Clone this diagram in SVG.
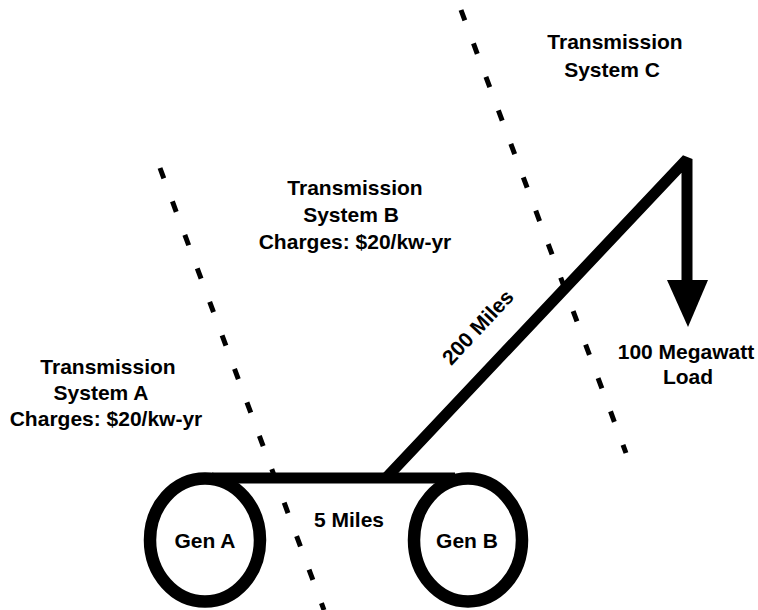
<svg xmlns="http://www.w3.org/2000/svg" width="758" height="610" viewBox="0 0 758 610">
  <style>
    .lbl { font-family: "Liberation Sans", Arial, sans-serif; font-weight: bold; font-size: 21px; fill: #000; text-anchor: middle; }
    .boundary { fill: none; stroke: #000; stroke-width: 5; stroke-dasharray: 11 24.7; }
    .wire { fill: none; stroke: #000; stroke-width: 11; }
    .gen { fill: #fff; stroke: #000; stroke-width: 12.5; }
  </style>

  <!-- system boundaries (dotted) -->
  <g id="boundaries">
    <line class="boundary" x1="160" y1="168" x2="324" y2="610"/>
    <line class="boundary" x1="461" y1="10" x2="626" y2="453"/>
  </g>

  <!-- region labels -->
  <g id="system-a">
    <text class="lbl" x="108" y="374">Transmission</text>
    <text class="lbl" x="101" y="400">System A</text>
    <text class="lbl" x="106" y="426">Charges: $20/kw-yr</text>
  </g>
  <g id="system-b">
    <text class="lbl" x="355" y="195">Transmission</text>
    <text class="lbl" x="351" y="222">System B</text>
    <text class="lbl" x="355" y="249">Charges: $20/kw-yr</text>
  </g>
  <g id="system-c">
    <text class="lbl" x="615" y="49">Transmission</text>
    <text class="lbl" x="612" y="77">System C</text>
  </g>

  <!-- transmission lines -->
  <g id="connectors">
    <line class="wire" x1="212" y1="478" x2="455" y2="478" stroke-width="10"/>
    <path class="wire" d="M386,478 L687,159 L687,284" stroke-linejoin="bevel"/>
    <polygon points="667,280 708,280 688,327" fill="#000"/>
    <text class="lbl" x="349" y="527">5 Miles</text>
    <text class="lbl" transform="translate(483,332) rotate(-47)" x="0" y="0">200 Miles</text>
  </g>

  <!-- generators -->
  <g id="gen-a">
    <ellipse class="gen" cx="205" cy="540" rx="55" ry="61.5"/>
    <text class="lbl" x="205" y="548">Gen A</text>
  </g>
  <g id="gen-b">
    <ellipse class="gen" cx="468" cy="540" rx="54" ry="61.5"/>
    <text class="lbl" x="467" y="548">Gen B</text>
  </g>

  <!-- load -->
  <g id="load">
    <text class="lbl" x="686" y="359">100 Megawatt</text>
    <text class="lbl" x="688" y="384">Load</text>
  </g>
</svg>
